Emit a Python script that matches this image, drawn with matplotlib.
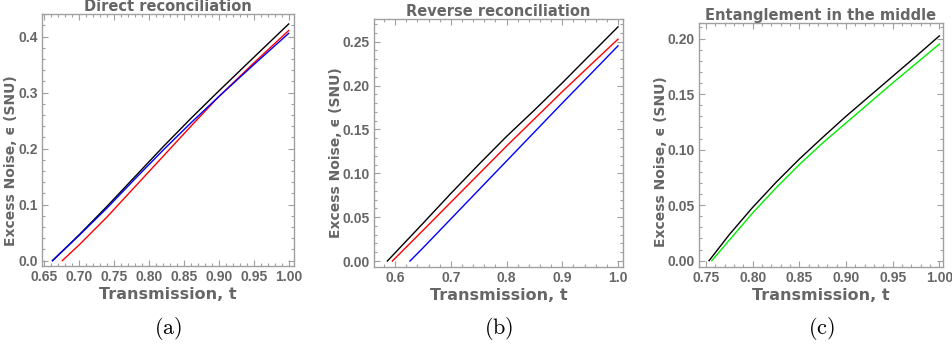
import matplotlib
matplotlib.use("Agg")
import matplotlib.pyplot as plt
from matplotlib import font_manager
from matplotlib.ticker import MultipleLocator

# panel (a) direct reconciliation
t_a_black = [0.662, 0.70, 0.74, 0.78, 0.82, 0.86, 0.90, 0.95, 1.00]
e_a_black = [0.0, 0.046, 0.097, 0.150, 0.203, 0.254, 0.303, 0.363, 0.4227]
t_a_blue = [0.662, 0.70, 0.74, 0.78, 0.82, 0.86, 0.90, 0.95, 1.00]
e_a_blue = [0.0, 0.045, 0.094, 0.146, 0.197, 0.246, 0.293, 0.350, 0.406]
t_a_red = [0.676, 0.70, 0.74, 0.78, 0.82, 0.86, 0.90, 0.95, 1.00]
e_a_red = [0.0, 0.028, 0.078, 0.132, 0.186, 0.240, 0.293, 0.353, 0.411]

# panel (b) reverse reconciliation
t_b_black = [0.586, 0.65, 0.70, 0.75, 0.80, 0.85, 0.90, 0.95, 1.00]
e_b_black = [0.0, 0.043, 0.077, 0.110, 0.142, 0.172, 0.203, 0.235, 0.2668]
t_b_red = [0.595, 0.65, 0.70, 0.75, 0.80, 0.85, 0.90, 0.95, 1.00]
e_b_red = [0.0, 0.035, 0.067, 0.099, 0.131, 0.162, 0.193, 0.223, 0.2528]
t_b_blue = [0.6266, 0.65, 0.70, 0.75, 0.80, 0.85, 0.90, 0.95, 1.00]
e_b_blue = [0.0, 0.0150, 0.048, 0.081, 0.114, 0.147, 0.180, 0.2125, 0.2452]

# panel (c) entanglement in the middle
t_c_black = [0.7533, 0.775, 0.80, 0.825, 0.85, 0.875, 0.90, 0.925, 0.95, 0.975, 1.00]
e_c_black = [0.0, 0.0235, 0.048, 0.0705, 0.0915, 0.111, 0.130, 0.148, 0.166, 0.184, 0.2024]
t_c_green = [0.7562, 0.775, 0.80, 0.825, 0.85, 0.875, 0.90, 0.925, 0.95, 0.975, 1.00]
e_c_green = [0.0, 0.0185, 0.043, 0.0655, 0.0865, 0.106, 0.124, 0.142, 0.160, 0.1775, 0.195]

titles = ["Direct reconciliation", "Reverse reconciliation", "Entanglement in the middle"]
captions = ["(a)", "(b)", "(c)"]
xlabel = "Transmission, t"
ylabel = "Excess Noise, \u03f5 (SNU)"

xt_a = [0.65, 0.70, 0.75, 0.80, 0.85, 0.90, 0.95, 1.00]
yt_a = [0.0, 0.1, 0.2, 0.3, 0.4]
xt_b = [0.6, 0.7, 0.8, 0.9, 1.0]
yt_b = [0.0, 0.05, 0.10, 0.15, 0.20, 0.25]
xt_c = [0.75, 0.80, 0.85, 0.90, 0.95, 1.00]
yt_c = [0.0, 0.05, 0.10, 0.15, 0.20]


def has_font(name):
  try:
    font_manager.findfont(name, fallback_to_default=False)
    return True
  except Exception:
    return False


if has_font("Liberation Sans Narrow"):
  tick_font, tick_size = "Liberation Sans Narrow", 11
else:
  tick_font, tick_size = "Liberation Sans", 10

plt.rcParams["mathtext.fontset"] = "cm"
TXT = "#666666"
FRAME = "#a0a0a0"

W, H = 952, 351
fig = plt.figure(figsize=(W / 100, H / 100), dpi=100)


def px_axes(left, top, right, bottom):
  return fig.add_axes([left / W, 1 - bottom / H, (right - left) / W, (bottom - top) / H])


def style(ax, xt, yt, xfmt, yfmt, xminor, yminor, title, ylab_pos):
  ax.set_xticks(xt, labels=[xfmt.format(v) for v in xt], family=tick_font,
                fontsize=tick_size, fontweight="bold", color=TXT)
  ax.set_yticks(yt, labels=[yfmt.format(v) for v in yt], family=tick_font,
                fontsize=tick_size, fontweight="bold", color=TXT)
  ax.xaxis.set_minor_locator(MultipleLocator(xminor))
  ax.yaxis.set_minor_locator(MultipleLocator(yminor))
  ax.tick_params(which="both", direction="in", top=True, right=True, color=FRAME, width=0.8)
  ax.tick_params(which="major", length=4, pad=3)
  ax.tick_params(which="minor", length=2)
  for s in ax.spines.values():
    s.set_color(FRAME)
    s.set_linewidth(1.0)
  ax.set_xlabel(xlabel, fontsize=11.5, fontweight="bold", color=TXT, labelpad=2,
                family=["DejaVu Sans"])
  ax.set_ylabel(ylabel, fontsize=10, fontweight="bold", color=TXT,
                family=["DejaVu Sans"])
  ax.yaxis.set_label_coords(*ylab_pos)
  ax.set_title(title, fontsize=10.5, fontweight="bold", color=TXT, pad=2,
               family=["DejaVu Sans"])


lw = 1.0

# (a)
ax1 = px_axes(42, 14, 294, 266)
ax1.plot(t_a_black, e_a_black, color="black", lw=lw)
ax1.plot(t_a_red, e_a_red, color="red", lw=lw)
ax1.plot(t_a_blue, e_a_blue, color="blue", lw=lw)
ax1.set_xlim(0.647, 1.0076)
ax1.set_ylim(-0.0095, 0.4405)
style(ax1, xt_a, yt_a, "{:.2f}", "{:.1f}", 0.01, 0.02, titles[0], (-0.095, 0.42))

# (b)
ax2 = px_axes(374, 19, 623, 267)
ax2.plot(t_b_black, e_b_black, color="black", lw=lw)
ax2.plot(t_b_red, e_b_red, color="red", lw=lw)
ax2.plot(t_b_blue, e_b_blue, color="blue", lw=lw)
ax2.set_xlim(0.562, 1.009)
ax2.set_ylim(-0.0068, 0.2758)
style(ax2, xt_b, yt_b, "{:.1f}", "{:.2f}", 0.02, 0.01, titles[1], (-0.125, 0.46))

# (c)
ax3 = px_axes(699, 23, 943, 267)
ax3.plot(t_c_black, e_c_black, color="black", lw=lw)
ax3.plot(t_c_green, e_c_green, color="#00ee00", lw=lw)
ax3.set_xlim(0.7425, 1.0039)
ax3.set_ylim(-0.0057, 0.214)
style(ax3, xt_c, yt_c, "{:.2f}", "{:.2f}", 0.01, 0.01, titles[2], (-0.127, 0.43))

# sub captions
for ax, cap in zip([ax1, ax2, ax3], captions):
  pos = ax.get_position()
  fig.text((pos.x0 + pos.x1) / 2, 1 - 328 / H, "$\\mathrm{" + cap + "}$", ha="center",
           va="center", fontsize=16, color="black")

fig.savefig("out.png", dpi=100)
plt.close()
